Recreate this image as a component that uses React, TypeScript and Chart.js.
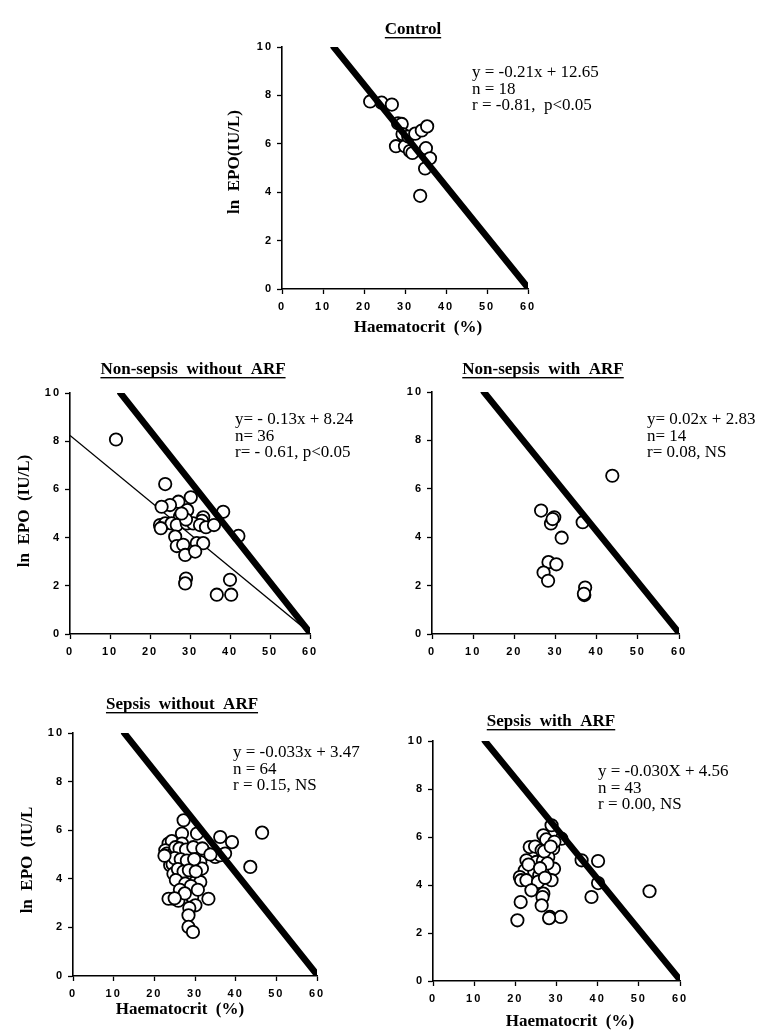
import React, { useEffect, useRef } from "react";
import { Chart, registerables } from "chart.js";

Chart.register(...registerables);

// ---------- data ----------
const X_TICKS = [0, 10, 20, 30, 40, 50, 60];
const Y_TICKS = [0, 2, 4, 6, 8, 10];

// reference (control regression) line, drawn on every panel
const REF_LINE_HCT = [12.6, 60];
const REF_LINE_EPO = [10.0, 0.05];

// fitted line for Non-sepsis without ARF
const NSWO_FIT_HCT = [0, 58.5];
const NSWO_FIT_EPO = [8.24, 0.25];

const CONTROL_HCT = [21.5, 24.3, 26.8, 28.3, 29.2, 29.4, 27.8, 30.0, 31.2, 31.8, 30.8, 32.5, 34.1, 35.4, 35.1, 36.1, 34.9, 33.7];
const CONTROL_EPO = [7.75, 7.7, 7.62, 6.85, 6.82, 6.4, 5.9, 5.9, 5.7, 5.62, 6.3, 6.42, 6.55, 6.72, 5.82, 5.4, 4.98, 3.85];

const NSWO_HCT = [11.5, 23.8, 30.2, 27.1, 25.0, 22.9, 29.3, 38.3, 33.3, 33.0, 27.5, 22.5, 23.8, 25.4, 26.7, 29.2, 30.8, 32.5, 34.0, 36.0, 29.0, 22.7, 42.1, 26.3, 26.7, 28.3, 31.7, 33.3, 28.8, 31.3, 29.0, 28.8, 40.0, 36.7, 40.3, 27.9];
const NSWO_EPO = [8.07, 6.22, 5.67, 5.49, 5.35, 5.28, 5.14, 5.07, 4.84, 4.7, 4.87, 4.52, 4.59, 4.59, 4.52, 4.59, 4.59, 4.52, 4.43, 4.52, 4.75, 4.39, 4.07, 4.04, 3.65, 3.7, 3.77, 3.77, 3.28, 3.42, 2.3, 2.1, 2.25, 1.63, 1.63, 5.0];

const NSW_HCT = [43.8, 26.5, 29.7, 28.9, 36.6, 31.5, 28.3, 30.2, 27.1, 28.2, 37.2, 37.0, 29.3, 36.9];
const NSW_EPO = [6.54, 5.1, 4.82, 4.57, 4.62, 3.98, 2.97, 2.88, 2.54, 2.2, 1.92, 1.61, 4.75, 1.66];

const SWO_HCT = [27.2, 30.5, 26.8, 36.2, 39.1, 23.5, 24.3, 26.8, 22.7, 23.1, 24.7, 25.5, 28.4, 30.5, 32.9, 35.0, 36.2, 37.4, 31.3, 23.9, 24.5, 27.6, 29.3, 31.7, 24.7, 26.0, 28.8, 30.1, 31.3, 26.8, 24.7, 23.5, 25.9, 29.3, 33.3, 30.1, 28.6, 28.4, 28.4, 29.5, 46.5, 43.6, 25.2, 26.2, 27.8, 29.6, 31.8, 33.8, 25.0, 26.5, 28.0, 29.8, 25.8, 27.2, 28.5, 30.2, 25.3, 27.6, 29.0, 26.3, 27.5, 25.0, 30.7, 22.5];
const SWO_EPO = [6.41, 5.86, 5.86, 5.72, 5.51, 5.45, 5.55, 5.45, 5.17, 5.04, 5.04, 5.1, 5.04, 5.1, 5.04, 4.9, 4.97, 5.04, 4.69, 4.56, 4.6, 4.56, 4.49, 4.42, 4.21, 4.07, 4.07, 3.87, 3.87, 3.87, 3.18, 3.18, 3.1, 3.25, 3.18, 2.91, 2.8, 2.5, 2.02, 1.81, 5.9, 4.49, 5.3, 5.25, 5.2, 5.3, 5.25, 5.0, 4.85, 4.8, 4.75, 4.8, 4.4, 4.3, 4.35, 4.3, 3.95, 3.8, 3.7, 3.55, 3.4, 3.2, 3.55, 4.95];

const SW_HCT = [28.8, 31.2, 26.8, 28.0, 29.2, 23.5, 24.8, 26.4, 28.0, 22.7, 25.1, 26.7, 36.1, 40.1, 29.4, 22.3, 24.6, 25.8, 21.1, 21.4, 22.7, 25.5, 28.8, 40.1, 23.9, 26.8, 26.6, 38.5, 21.3, 26.4, 28.4, 31.0, 20.5, 52.6, 27.5, 29.5, 27.0, 28.6, 23.2, 27.8, 26.0, 27.2, 28.2];
const SW_EPO = [6.49, 5.93, 6.07, 5.79, 5.52, 5.58, 5.6, 5.45, 5.17, 5.03, 4.96, 5.0, 5.03, 5.0, 4.68, 4.61, 4.55, 4.4, 4.33, 4.2, 4.2, 4.13, 4.2, 4.08, 3.78, 3.64, 3.5, 3.5, 3.29, 3.15, 2.67, 2.67, 2.53, 3.74, 5.9, 5.8, 5.4, 5.6, 4.85, 4.9, 4.7, 4.3, 2.62];

const TITLES = ["Control", "Non-sepsis  without  ARF", "Non-sepsis  with  ARF", "Sepsis  without  ARF", "Sepsis  with  ARF"];
const STATS_CONTROL = ["y = -0.21x + 12.65", "n = 18", "r = -0.81,  p<0.05"];
const STATS_NSWO = ["y= - 0.13x + 8.24", "n= 36", "r= - 0.61, p<0.05"];
const STATS_NSW = ["y= 0.02x + 2.83", "n= 14", "r= 0.08, NS"];
const STATS_SWO = ["y = -0.033x + 3.47", "n = 64", "r = 0.15, NS"];
const STATS_SW = ["y = -0.030X + 4.56", "n = 43", "r = 0.00, NS"];
const Y_LABELS = ["ln  EPO(IU/L)", "ln  EPO  (IU/L)", "", "ln  EPO  (IU/L", ""];
const X_LABEL = "Haematocrit  (%)";

// ---------- layout ----------
const PAGE_W = 768;
const PAGE_H = 1034;
const Y_AXIS_W = 30;
const X_AXIS_H = 26;

type PanelLayout = {
  L: number; T: number; R: number; B: number;
  title: [number, number];
  stats: [number, number];
  yLab: [number, number] | null;
  xLab: [number, number] | null;
};

const LAYOUTS: PanelLayout[] = [
  { L: 282, T: 47, R: 528, B: 289, title: [413, 30], stats: [472, 73], yLab: [235, 162], xLab: [418, 328] },
  { L: 70, T: 393, R: 310, B: 634, title: [193, 370], stats: [235, 420], yLab: [25, 511], xLab: null },
  { L: 432, T: 392, R: 679, B: 634, title: [543, 370], stats: [647, 420], yLab: null, xLab: null },
  { L: 73, T: 733, R: 317, B: 976, title: [182, 705], stats: [233, 753], yLab: [28, 860], xLab: [180, 1010] },
  { L: 433, T: 741, R: 680, B: 981, title: [551, 722], stats: [598, 772], yLab: null, xLab: [570, 1022] },
];

type PanelData = {
  hct: number[];
  epo: number[];
  stats: string[];
  fitHct?: number[];
  fitEpo?: number[];
};

const PANELS: PanelData[] = [
  { hct: CONTROL_HCT, epo: CONTROL_EPO, stats: STATS_CONTROL },
  { hct: NSWO_HCT, epo: NSWO_EPO, stats: STATS_NSWO, fitHct: NSWO_FIT_HCT, fitEpo: NSWO_FIT_EPO },
  { hct: NSW_HCT, epo: NSW_EPO, stats: STATS_NSW },
  { hct: SWO_HCT, epo: SWO_EPO, stats: STATS_SWO },
  { hct: SW_HCT, epo: SW_EPO, stats: STATS_SW },
];

const SERIF = '"Liberation Serif", "Times New Roman", serif';
const SANS = '"Liberation Sans", Arial, sans-serif';

function Panel({ index }: { index: number }) {
  const ref = useRef<HTMLCanvasElement | null>(null);

  useEffect(() => {
    const canvas = ref.current;
    if (!canvas) return;
    const lay = LAYOUTS[index];
    const pd = PANELS[index];
    const toPts = (xs: number[], ys: number[]) => xs.map((x, i) => ({ x, y: ys[i] }));

    const datasets: any[] = [
      {
        label: "reference",
        data: toPts(REF_LINE_HCT, REF_LINE_EPO),
        showLine: true,
        borderColor: "#000",
        borderWidth: 6.5,
        borderCapStyle: "round",
        pointRadius: 0,
        order: 0,
      },
      {
        label: "patients",
        data: toPts(pd.hct, pd.epo),
        showLine: false,
        pointRadius: 6.2,
        pointBorderWidth: 1.8,
        pointBackgroundColor: "#fff",
        pointBorderColor: "#000",
        backgroundColor: "#fff",
        borderColor: "#000",
        order: 1,
      },
    ];
    if (pd.fitHct && pd.fitEpo) {
      datasets.push({
        label: "fit",
        data: toPts(pd.fitHct, pd.fitEpo),
        showLine: true,
        borderColor: "#000",
        borderWidth: 1.4,
        pointRadius: 0,
        order: 2,
      });
    }

    const textPlugin = {
      id: "panelText" + index,
      beforeDraw(chart: any) {
        chart.ctx.letterSpacing = "2px";
      },
      afterDraw(chart: any) {
        const ctx = chart.ctx as CanvasRenderingContext2D;
        ctx.save();
        (ctx as any).letterSpacing = "0px";
        ctx.fillStyle = "#000";
        ctx.strokeStyle = "#000";

        // title, bold + underlined
        ctx.font = `bold 17px ${SERIF}`;
        ctx.textAlign = "center";
        ctx.textBaseline = "middle";
        const title = TITLES[index];
        ctx.fillText(title, lay.title[0], lay.title[1]);
        const tw = ctx.measureText(title).width;
        ctx.fillRect(lay.title[0] - tw / 2, lay.title[1] + 7, tw, 1.4);

        // statistics
        ctx.font = `17px ${SERIF}`;
        ctx.textAlign = "left";
        pd.stats.forEach((s, i) => {
          ctx.fillText(s, lay.stats[0], lay.stats[1] + i * 16.5);
        });

        // y axis label
        const yl = Y_LABELS[index];
        if (lay.yLab && yl) {
          ctx.save();
          ctx.translate(lay.yLab[0], lay.yLab[1]);
          ctx.rotate(-Math.PI / 2);
          ctx.font = `bold 17px ${SERIF}`;
          ctx.textAlign = "center";
          ctx.fillText(yl, 0, 0);
          ctx.restore();
        }

        // x axis label
        if (lay.xLab) {
          ctx.font = `bold 17px ${SERIF}`;
          ctx.textAlign = "center";
          ctx.fillText(X_LABEL, lay.xLab[0], lay.xLab[1]);
        }
        ctx.restore();
      },
    };

    const tickFont = { family: SANS, size: 11, weight: "bold" };

    const chart = new Chart(canvas, {
      type: "scatter",
      data: { datasets },
      options: {
        animation: false,
        responsive: false,
        maintainAspectRatio: false,
        events: [],
        layout: {
          padding: {
            left: lay.L - Y_AXIS_W,
            top: lay.T,
            right: PAGE_W - lay.R,
            bottom: PAGE_H - lay.B - X_AXIS_H,
          },
        },
        plugins: {
          legend: { display: false },
          tooltip: { enabled: false },
          title: { display: false },
        },
        scales: {
          x: {
            type: "linear",
            position: "bottom",
            min: 0,
            max: 60,
            afterBuildTicks: (s: any) => {
              s.ticks = X_TICKS.map((v) => ({ value: v }));
            },
            afterFit: (s: any) => {
              s.height = X_AXIS_H;
            },
            grid: {
              drawOnChartArea: false,
              drawTicks: true,
              tickLength: 5,
              tickColor: "#000",
              tickWidth: 1.3,
            },
            border: { display: true, color: "#000", width: 1.6 },
            ticks: { color: "#000", font: tickFont, padding: 6, maxRotation: 0, autoSkip: false },
          },
          y: {
            type: "linear",
            position: "left",
            min: 0,
            max: 10,
            afterBuildTicks: (s: any) => {
              s.ticks = Y_TICKS.map((v) => ({ value: v }));
            },
            afterFit: (s: any) => {
              s.width = Y_AXIS_W;
            },
            grid: {
              drawOnChartArea: false,
              drawTicks: true,
              tickLength: 5,
              tickColor: "#000",
              tickWidth: 1.3,
            },
            border: { display: true, color: "#000", width: 1.6 },
            ticks: { color: "#000", font: tickFont, padding: 4 },
          },
        },
      } as any,
      plugins: [textPlugin],
    });

    return () => chart.destroy();
  }, [index]);

  return (
    <canvas
      ref={ref}
      width={PAGE_W}
      height={PAGE_H}
      style={{ position: "absolute", left: 0, top: 0, width: PAGE_W, height: PAGE_H }}
    />
  );
}

export default function App() {
  return (
    <div
      style={{
        position: "absolute",
        left: 0,
        top: 0,
        width: PAGE_W,
        height: PAGE_H,
        background: "#fff",
        overflow: "hidden",
      }}
    >
      {PANELS.map((_, i) => (
        <Panel key={i} index={i} />
      ))}
    </div>
  );
}
